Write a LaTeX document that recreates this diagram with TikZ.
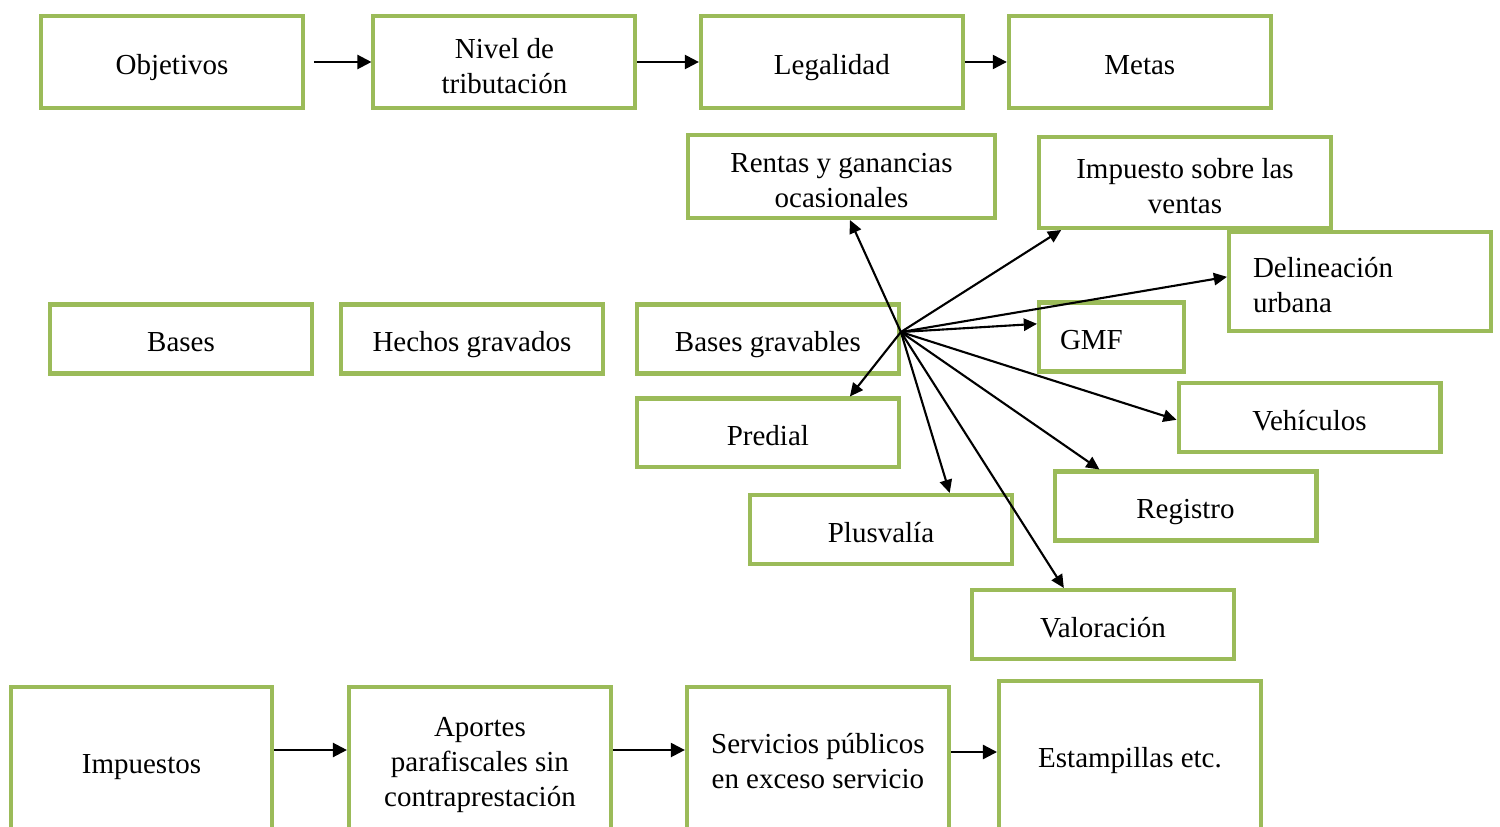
\documentclass[tikz,border=0pt]{standalone}
\usepackage{fontspec}
\setmainfont{Liberation Serif}
\usepackage{tikz}
\usetikzlibrary{arrows.meta,positioning}
\definecolor{boxgreen}{RGB}{155,187,89}
\newcommand{\lift}{\rule{0pt}{15.7pt}}

\begin{document}
\begin{tikzpicture}[x=0.02cm, y=-0.02cm,
	box/.style={draw=boxgreen, line width=2.3pt, rectangle, align=center, minimum width=5.24cm, minimum height=1.38cm, font=\fontsize{16.5}{20}\selectfont},
	one/.style={text height=18.2pt, text depth=3.6pt},
	tall/.style={minimum height=1.84cm},
	big/.style={minimum height=2.96cm},
	arr/.style={-{Triangle[length=8pt,width=8pt]}, line width=1.3pt},
	ray/.style={-{Triangle[length=7.5pt,width=7pt]}, line width=1.2pt}]
	\clip (0,0) rectangle (1500,827);
	
	\node[box, one, tall](OBJ) at (172,62){Objetivos};
	\node[box, tall, right of=OBJ, node distance=6.65cm](NIV){\lift Nivel de\\tributación};
	\node[box, one, tall, right of=NIV, node distance=6.55cm](LEG){Legalidad};
	\node[box, one, tall, right of=LEG, node distance=6.16cm](MET){Metas};
	
	\draw[arr, shorten <=0.18cm] (OBJ) -- (NIV);
	\draw[arr] (NIV) -- (LEG);
	\draw[arr] (LEG) -- (MET);
	
	
	\node[box, one](BAS) at (181,339){Bases};
	\node[box, one, right of=BAS, node distance=5.82cm](HEC){Hechos gravados};
	\node[box, one, right of=HEC, node distance=5.92cm](BG){Bases gravables};
	\node[box, one, below of=BG, node distance=1.88cm](PRE){Predial};
	\node[box, one](PLU) at (881,529.5){Plusvalía};
	\node[box, one](VAL) at (1103,624.5){Valoración};
	\node[box, one](REG) at (1185.5,506){Registro};
	\node[box, one](VEH) at (1309.5,417.5){Vehículos};
	\node[box, one, minimum width=2.9cm, align=left, text width=2.06cm](GMF) at (1111.5,337){GMF};
	\node[box, minimum height=1.98cm, align=left, text width=4.28cm](DEL) at (1360,281.5){\lift Delineación\\urbana};
	\node[box, minimum width=5.84cm, minimum height=1.82cm](VEN) at (1185,182.5){\lift Impuesto sobre las\\ventas};
	\node[box, minimum width=6.14cm, minimum height=1.66cm](REN) at (841.5,176.5){\lift Rentas y ganancias\\ocasionales};
	
	\coordinate (HUB) at (BG.3);
	\draw[ray] (HUB) -- (REN.281);
	\draw[ray] (HUB) -- (VEN.201);
	\draw[ray] (HUB) -- (DEL.178);
	\draw[ray] (HUB) -- (GMF.170);
	\draw[ray] (HUB) -- (VEH.181);
	\draw[ray] (HUB) -- (REG.157);
	\draw[ray] (HUB) -- (VAL.137);
	\draw[ray] (HUB) -- (PLU.28);
	\draw[ray] (HUB) -- (PRE.24);
	
	
	\node[box, one, big](IMP) at (141.5,761){Impuestos};
	\node[box, big, right of=IMP, node distance=6.77cm](APO){\lift Aportes\\parafiscales sin\\contraprestación};
	\node[box, big, right of=APO, node distance=6.76cm](SER){Servicios públicos\\en exceso servicio};
	\node[box, one, big](EST) at (1130,755){Estampillas etc.};
	
	\draw[arr] ([yshift=0.22cm]IMP.east) -- ([yshift=0.22cm]IMP.east -| APO.west);
	\draw[arr] ([yshift=0.22cm]APO.east) -- ([yshift=0.22cm]APO.east -| SER.west);
	\draw[arr] ([yshift=0.18cm]SER.east) -- ([yshift=0.18cm]SER.east -| EST.west);
	
\end{tikzpicture}
\end{document}
